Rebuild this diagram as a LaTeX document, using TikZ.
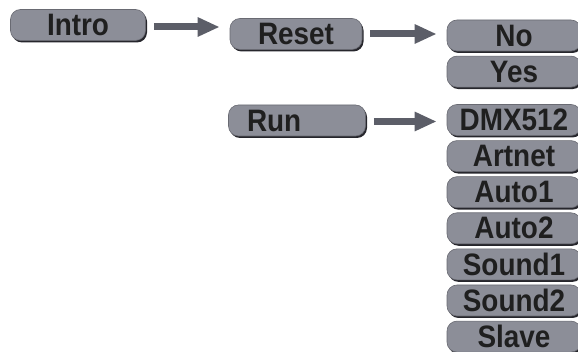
\documentclass[tikz,border=0pt]{standalone}
\usepackage{fontspec}
\setmainfont[FakeStretch=0.9]{Liberation Sans}
\usetikzlibrary{positioning,shadows,arrows.meta}

\definecolor{boxgray}{RGB}{140,142,152}
\definecolor{boxedge}{RGB}{38,38,44}
\definecolor{arrowgray}{RGB}{92,94,104}

\begin{document}
\begin{tikzpicture}[x=1pt, y=1pt, node distance=4.5pt]
  \tikzset{menu_box/.style={rounded corners=10pt, fill=boxgray, draw=boxgray!75!black, line width=0.6pt,
      minimum width=134pt, minimum height=31pt, inner sep=0pt,
      font=\fontsize{31}{32}\selectfont\bfseries, text=black!88,
      drop shadow={shadow xshift=1.5pt, shadow yshift=-2pt, fill=boxedge, opacity=1}}}
  \tikzset{menu_arrow/.style={line width=7pt, draw=arrowgray, -{Triangle[length=22pt,width=18pt]},
      shorten <=8pt, shorten >=10pt}}

  \clip (0,-352) rectangle (578,0);

  \node[menu_box, minimum width=135pt] (intro) at (78,-25) {Intro};
  \node[menu_box, minimum width=132pt] (reset) at (296,-34) {Reset};
  \node[menu_box, minimum width=137pt, text width=100pt, align=left] (run) at (297,-120.5) {Run};

  \node[menu_box] (no) at (514,-35.5) {No};
  \node[menu_box] (yes) [below=of no] {Yes};

  \node[menu_box] (dmx) at (514,-120) {DMX512};
  \node[menu_box] (artnet) [below=of dmx] {Artnet};
  \node[menu_box] (auto1) [below=of artnet] {Auto1};
  \node[menu_box] (auto2) [below=of auto1] {Auto2};
  \node[menu_box] (sound1) [below=of auto2] {Sound1};
  \node[menu_box] (sound2) [below=of sound1] {Sound2};
  \node[menu_box] (slave) [below=of sound2] {Slave};

  \draw[menu_arrow] ([yshift=-2pt]intro.east) -- ([yshift=-2pt]intro.east -| reset.west);
  \draw[menu_arrow] (reset.east) -- (reset.east -| no.west);
  \draw[menu_arrow] ([yshift=-1pt]run.east) -- ([yshift=-1pt]run.east -| dmx.west);
\end{tikzpicture}
\end{document}
